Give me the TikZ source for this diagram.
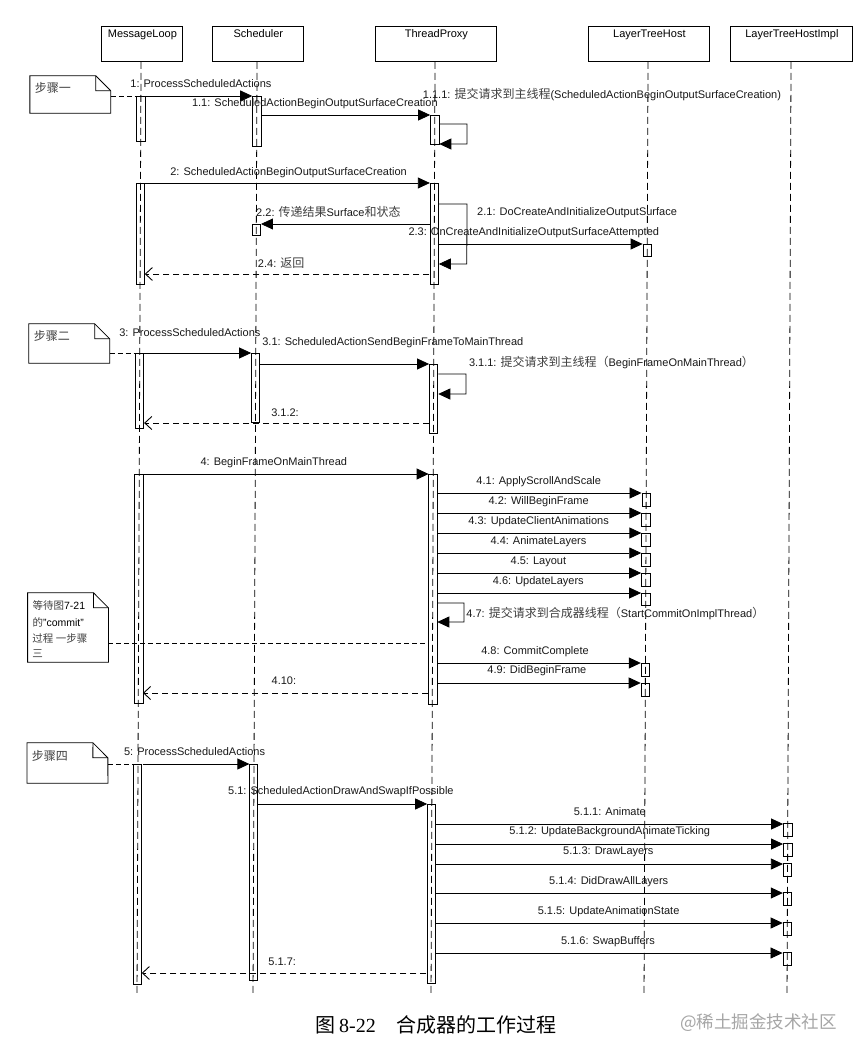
\documentclass[tikz,border=0pt]{standalone}
\usepackage{fontspec}
\setmainfont{Liberation Sans}
\newfontfamily\cjk{Noto Sans CJK SC}
\newfontfamily\serifnum{Liberation Serif}
\usetikzlibrary{arrows.meta}
\newcommand\zh[1]{{\cjk\fontsize{12}{13}\selectfont\color{black!75}#1}}
\newcommand\actbar[4]{\node[actb, minimum height={#4-#3}] (#1) at ({#2},{(#3+#4)/2}) {};}
\newcommand\notebox[5]{%
  \node[inner sep=0pt, minimum width={#4-#2}, minimum height={#5-#3}] (#1) at ({(#2+#4)/2},{(#3+#5)/2}) {};
  \draw[notel] (#1.north west) -- ([xshift=-15pt]#1.north east) -- ([yshift=-15pt]#1.north east) -- (#1.south east) -- (#1.south west) -- cycle;
  \draw[notel] ([xshift=-15pt]#1.north east) |- ([yshift=-15pt]#1.north east);}
\begin{document}
\begin{tikzpicture}[x=1pt,y=-1pt,font=\fontsize{11}{13}\selectfont,
  hdr/.style={draw, line width=0.9pt, anchor=north, minimum height=35pt, inner sep=2.5pt, text height=9pt, text depth=21pt},
  lifeline/.style={line width=0.8pt, dash pattern=on 7pt off 4pt},
  actb/.style={draw, line width=0.8pt, minimum width=8.5pt, inner sep=0pt},
  msg/.style={line width=0.8pt, -{Triangle[length=12pt,width=11pt]}},
  ret/.style={line width=0.8pt, dash pattern=on 6pt off 4pt, -{Straight Barb[length=7pt,width=13pt,line width=0.9pt]}},
  notecon/.style={line width=0.7pt, dash pattern=on 5pt off 3pt},
  notel/.style={line width=0.8pt},
  lb/.style={inner sep=1pt, text=black!90},
  nt/.style={anchor=west, inner sep=0pt, font=\fontsize{10.5}{12}\selectfont}]
\useasboundingbox (0,0) rectangle (867,1059);
\fill[white] (0,0) rectangle (867,1059);
\def\xML{141.3}\def\xS{257.3}\def\xT{435.3}\def\xH{648.3}\def\xI{791.3}
\begin{scope}[xslant=0.0043]
% headers
\node[hdr, minimum width=81pt] (hML) at (142.5,26) {MessageLoop};
\node[hdr, minimum width=91pt] (hS) at (258.5,26) {Scheduler};
\node[hdr, minimum width=121pt] (hT) at (436.5,26) {ThreadProxy};
\node[hdr, minimum width=121pt] (hH) at (649.5,26) {LayerTreeHost};
\node[hdr, minimum width=122pt] (hI) at (792,26) {LayerTreeHostImpl};
% lifelines
\foreach \n/\x in {ML/\xML, S/\xS, T/\xT, H/\xH, I/\xI}{
  \coordinate (e\n) at (\x,995);
  \draw[lifeline] (e\n |- h\n.south) -- (e\n);
}
% activations
\actbar{a1}{\xML}{96}{141}
\actbar{a2}{\xML}{183}{284}
\actbar{a3}{\xML}{353}{428}
\actbar{a4}{\xML}{474}{703}
\actbar{a5}{\xML}{764}{984}
\actbar{s1}{\xS}{96}{146}
\actbar{s2}{\xS}{224}{235}
\actbar{s3}{\xS}{353}{422}
\actbar{s5}{\xS}{764}{980}
\actbar{t1}{\xT}{115}{144}
\actbar{t2}{\xT}{183}{284}
\actbar{t3}{\xT}{364}{433}
\actbar{t4}{\xT}{474}{704}
\actbar{t5}{\xT}{804}{983}
\actbar{h23}{\xH}{244}{256}
\actbar{h41}{\xH}{493}{506}
\actbar{h42}{\xH}{513}{526}
\actbar{h43}{\xH}{533}{546}
\actbar{h44}{\xH}{553}{566}
\actbar{h45}{\xH}{573}{586}
\actbar{h46}{\xH}{593}{605}
\actbar{h48}{\xH}{663}{676}
\actbar{h49}{\xH}{683}{696}
\actbar{i1}{\xI}{823}{836}
\actbar{i2}{\xI}{843}{856}
\actbar{i3}{\xI}{863}{876}
\actbar{i4}{\xI}{892}{905}
\actbar{i5}{\xI}{922}{935}
\actbar{i6}{\xI}{952}{965}
% notes
\notebox{n1}{30.5}{76}{111}{113}
\notebox{n2}{30.5}{324}{111}{363}
\notebox{n3}{30.5}{593}{111}{662}
\notebox{n4}{30.5}{743}{111}{783}
\node[nt] (n1t) at (35,88) {\zh{步骤一}};
\node[nt] (n2t) at (35,336) {\zh{步骤二}};
\node[nt] (n3a) at (35,605) {{\cjk\color{black!75}等待图}7-21};
\node[nt] (n3b) at (35,622) {{\cjk\color{black!75}的}"commit"};
\node[nt] (n3c) at (35,638) {{\cjk\color{black!75}过程 一步骤}};
\node[nt] (n3d) at (35,654) {{\cjk\color{black!75}三}};
\node[nt] (n4t) at (35,756) {\zh{步骤四}};
\draw[notecon] (n1.east |- 0,96) -- (a1.west |- 0,96);
\draw[notecon] (n2.east |- 0,353) -- (a3.west |- 0,353);
\draw[notecon] (n3.east |- 0,643) -- (t4.west |- 0,643);
\draw[notecon] (n4.east |- 0,764) -- (a5.west |- 0,764);
% step 1
\draw[msg] (a1.east |- 0,96) -- (s1.west |- 0,96);
\node[lb] (L1) at (201.3,84) {1: ProcessScheduledActions};
\draw[msg] (s1.east |- 0,115) -- (t1.west |- 0,115);
\node[lb] (L11) at (315.3,104) {1.1: ScheduledActionBeginOutputSurfaceCreation};
\draw[msg] (t1.east |- 0,124) -- (467.6,124) -- (467.6,144) -- (t1.east |- 0,144);
\node[lb] (L111) at (602.4,95) {1.1.1: \zh{提交请求到主线程}(ScheduledActionBeginOutputSurfaceCreation)};
\draw[msg] (a2.east |- 0,183) -- (t2.west |- 0,183);
\node[lb] (L2) at (289.3,173) {2: ScheduledActionBeginOutputSurfaceCreation};
\draw[msg] (t2.east |- 0,204) -- (467.9,204) -- (467.9,264) -- (t2.east |- 0,264);
\node[lb] (L21) at (578,213) {2.1: DoCreateAndInitializeOutputSurface};
\draw[msg] (t2.west |- 0,224) -- (s2.east |- 0,224);
\node[lb] (L22) at (329.3,212) {2.2: \zh{传递结果}Surface\zh{和状态}};
\draw[msg] (t2.east |- 0,244) -- (h23.west |- 0,244);
\node[lb] (L23) at (534.8,233) {2.3: OnCreateAndInitializeOutputSurfaceAttempted};
\draw[ret] (t2.west |- 0,274) -- (a2.east |- 0,274);
\node[lb] (L24) at (282.3,263) {2.4: \zh{返回}};
% step 2
\draw[msg] (a3.east |- 0,353) -- (s3.west |- 0,353);
\node[lb] (L3) at (191.3,333) {3: ProcessScheduledActions};
\draw[msg] (s3.east |- 0,364) -- (t3.west |- 0,364);
\node[lb] (L31) at (394.3,343) {3.1: ScheduledActionSendBeginFrameToMainThread};
\draw[msg] (t3.east |- 0,374) -- (467.6,374) -- (467.6,394) -- (t3.east |- 0,394);
\node[lb] (L311) at (613,363) {3.1.1: \zh{提交请求到主线程（}BeginFrameOnMainThread\zh{）}};
\draw[ret] (t3.west |- 0,423) -- (a3.east |- 0,423);
\node[lb] (L312) at (286.8,413) {3.1.2:};
% step 3
\draw[msg] (a4.east |- 0,474) -- (t4.west |- 0,474);
\node[lb] (L4) at (275.8,463) {4: BeginFrameOnMainThread};
\draw[msg] (t4.east |- 0,493) -- (h41.west |- 0,493);
\node[lb] (L41) at (540.8,482) {4.1: ApplyScrollAndScale};
\draw[msg] (t4.east |- 0,513) -- (h42.west |- 0,513);
\node[lb] (L42) at (540.8,502) {4.2: WillBeginFrame};
\draw[msg] (t4.east |- 0,533) -- (h43.west |- 0,533);
\node[lb] (L43) at (540.8,522) {4.3: UpdateClientAnimations};
\draw[msg] (t4.east |- 0,553) -- (h44.west |- 0,553);
\node[lb] (L44) at (540.8,542) {4.4: AnimateLayers};
\draw[msg] (t4.east |- 0,573) -- (h45.west |- 0,573);
\node[lb] (L45) at (540.8,562) {4.5: Layout};
\draw[msg] (t4.east |- 0,593) -- (h46.west |- 0,593);
\node[lb] (L46) at (540.8,582) {4.6: UpdateLayers};
\draw[msg] (t4.east |- 0,603) -- (466.6,603) -- (466.6,622) -- (t4.east |- 0,622);
\node[lb] (L47) at (618,613) {4.7: \zh{提交请求到合成器线程（}StartCommitOnImplThread\zh{）}};
\draw[msg] (t4.east |- 0,663) -- (h48.west |- 0,663);
\node[lb] (L48) at (537.8,652) {4.8: CommitComplete};
\draw[msg] (t4.east |- 0,683) -- (h49.west |- 0,683);
\node[lb] (L49) at (539.8,671) {4.9: DidBeginFrame};
\draw[ret] (t4.west |- 0,693) -- (a4.east |- 0,693);
\node[lb] (L410) at (286.8,681) {4.10:};
% step 4
\draw[msg] (a5.east |- 0,764) -- (s5.west |- 0,764);
\node[lb] (L5) at (197.8,752) {5: ProcessScheduledActions};
\draw[msg] (s5.east |- 0,804) -- (t5.west |- 0,804);
\node[lb] (L51) at (344.3,792) {5.1: ScheduledActionDrawAndSwapIfPossible};
\draw[msg] (t5.east |- 0,824) -- (i1.west |- 0,824);
\node[lb] (L511) at (613.3,812) {5.1.1: Animate};
\draw[msg] (t5.east |- 0,844) -- (i2.west |- 0,844);
\node[lb] (L512) at (613.3,832) {5.1.2: UpdateBackgroundAnimateTicking};
\draw[msg] (t5.east |- 0,864) -- (i3.west |- 0,864);
\node[lb] (L513) at (612,852) {5.1.3: DrawLayers};
\draw[msg] (t5.east |- 0,893) -- (i4.west |- 0,893);
\node[lb] (L514) at (612.5,882) {5.1.4: DidDrawAllLayers};
\draw[msg] (t5.east |- 0,923) -- (i5.west |- 0,923);
\node[lb] (L515) at (612.5,912) {5.1.5: UpdateAnimationState};
\draw[msg] (t5.east |- 0,953) -- (i6.west |- 0,953);
\node[lb] (L516) at (612,942) {5.1.6: SwapBuffers};
\draw[ret] (t5.west |- 0,973) -- (a5.east |- 0,973);
\node[lb] (L517) at (286.3,962) {5.1.7:};
\end{scope}
% caption and watermark
\node[anchor=base west, inner sep=0pt] (cap) at (315,1032.5) {\fontsize{20}{24}\selectfont\cjk 图\hspace{4pt}\serifnum 8-22\hspace{21pt}\cjk 合成器的工作过程};
\node[anchor=base west, inner sep=0pt, text=black!35] (wm) at (680,1028.5) {\fontsize{17.5}{20}\selectfont\cjk @稀土掘金技术社区};
\end{tikzpicture}
\end{document}
